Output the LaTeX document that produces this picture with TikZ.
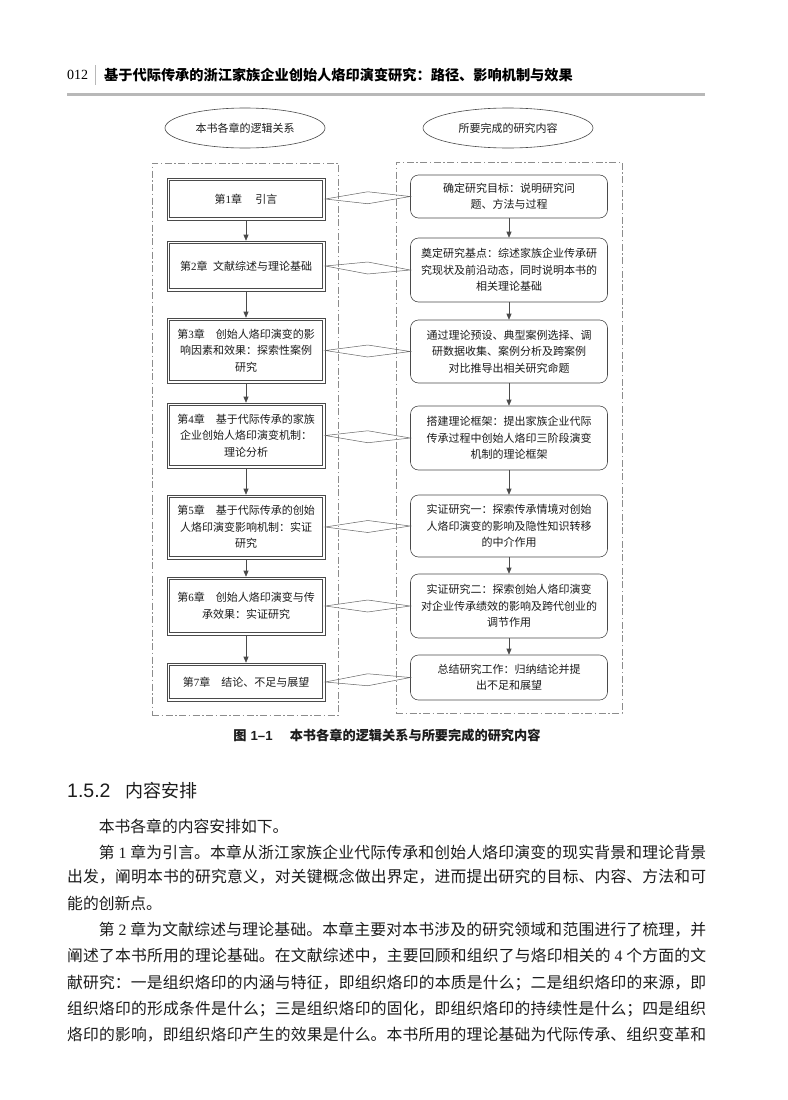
\documentclass[tikz,border=0pt]{standalone}
\usepackage{fontspec}
\setmainfont{Liberation Serif}
\newfontfamily\cjk{Noto Sans CJK SC}
\newfontfamily\lat{Liberation Serif}
\newfontfamily\sflat{Liberation Sans}
\usetikzlibrary{shapes.geometric,arrows.meta,calc}
\XeTeXlinebreaklocale "zh"
\XeTeXlinebreakskip=0pt plus 1pt
\definecolor{boxline}{HTML}{4A4A4A}
\definecolor{dashline}{HTML}{8C8C8C}
\definecolor{rulegray}{HTML}{B8B8B8}
\definecolor{txt}{HTML}{1C1C1C}
\newcommand\boxfont{\cjk\fontsize{11}{16.5}\selectfont\color{txt}}
\newcommand\bodyfont{\cjk\fontsize{15.8}{26}\selectfont\color{txt}}
\newcommand\dg[1]{\hspace{0.25em}{\lat #1}\hspace{0.25em}}
\newcommand\bd[1]{{\lat #1}}
\newcommand\jl[2]{\node[bodyline] at (67,#1) {\noindent\parfillskip=0pt\relax #2\par};}
\newcommand\rl[2]{\node[bodyline] at (67,#1) {\noindent #2\par};}
\begin{document}
\begin{tikzpicture}[x=1pt,y=-1pt,
  chbox/.style={draw=boxline, line width=0.6pt,
    minimum width=158pt, inner sep=3pt, align=center, font=\boxfont},
  inner/.style={draw=boxline, line width=0.6pt},
  rbox/.style={draw=boxline, line width=0.6pt, rounded corners=8pt,
    minimum width=197pt, inner sep=3pt, align=center, font=\boxfont},
  frame/.style={draw=dashline, line width=0.6pt, dash pattern=on 7pt off 2.5pt on 1.5pt off 2.5pt},
  oval/.style={ellipse, draw=boxline, line width=0.6pt, inner sep=1pt, font=\boxfont},
  arr/.style={draw=boxline, line width=0.6pt, -{Triangle[length=6pt,width=5pt]}},
  diam/.style={draw=boxline!85, line width=0.5pt},
  bodyline/.style={anchor=west, inner sep=0pt, text width=639pt, align=justify, font=\bodyfont}]
\useasboundingbox (0,0) rectangle (787,1100);
\fill[white] (0,0) rectangle (787,1100);

% header
\node[anchor=west, inner sep=0pt, font=\lat\fontsize{14}{14}\selectfont] (pg) at (67,75) {012};
\coordinate (bt) at (95,65);
\coordinate (bb) at (95,85);
\draw[rulegray, line width=0.6pt] (bt) -- (bb);
\node[anchor=west, inner sep=0pt, font=\cjk\bfseries\fontsize{14.2}{14.2}\selectfont] (ht) at (104,75)
  {基于代际传承的浙江家族企业创始人烙印演变研究：路径、影响机制与效果};
\coordinate (rl) at (67,94);
\coordinate (rr) at (705,94);
\draw[rulegray, line width=3pt] (rl) -- (rr);

% ellipses
\node[oval, minimum width=160pt, minimum height=40pt] (E1) at (245,128) {本书各章的逻辑关系};
\node[oval, minimum width=170pt, minimum height=40pt] (E2) at (508,128) {所要完成的研究内容};

% frames
\node[frame, minimum width=186pt, minimum height=552pt] (FL) at (245,439) {};
\node[frame, minimum width=226pt, minimum height=551pt] (FR) at (509,437.5) {};

% left chapter boxes (double border)
\node[chbox, minimum height=42pt] (L1) at (246,199) {第\bd{1}章\hspace{1.2em}引言};
\node[chbox, minimum height=50pt] (L2) at (246,266) {第\bd{2}章\hspace{0.5em}文献综述与理论基础};
\node[chbox, minimum height=65pt] (L3) at (246,350.5) {第\bd{3}章\hspace{1em}创始人烙印演变的影\\响因素和效果：探索性案例\\研究};
\node[chbox, minimum height=65pt] (L4) at (246,435.5) {第\bd{4}章\hspace{1em}基于代际传承的家族\\企业创始人烙印演变机制：\\理论分析};
\node[chbox, minimum height=64pt] (L5) at (246,527) {第\bd{5}章\hspace{1em}基于代际传承的创始\\人烙印演变影响机制：实证\\研究};
\node[chbox, minimum height=58pt] (L6) at (246,606) {第\bd{6}章\hspace{1em}创始人烙印演变与传\\承效果：实证研究};
\node[chbox, minimum height=38pt] (L7) at (246,682) {第\bd{7}章\hspace{1em}结论、不足与展望};
\foreach \k in {1,...,7}{
  \draw[inner] ($(L\k.north west)+(3,3)$) rectangle ($(L\k.south east)+(-3,-3)$);
}

% right content boxes
\node[rbox, minimum height=43pt] (R1) at (509,196.5) {确定研究目标：说明研究问\\题、方法与过程};
\node[rbox, minimum height=64pt] (R2) at (509,270) {奠定研究基点：综述家族企业传承研\\究现状及前沿动态，同时说明本书的\\相关理论基础};
\node[rbox, minimum height=63pt] (R3) at (509,351.5) {通过理论预设、典型案例选择、调\\研数据收集、案例分析及跨案例\\对比推导出相关研究命题};
\node[rbox, minimum height=64pt] (R4) at (509,438) {搭建理论框架：提出家族企业代际\\传承过程中创始人烙印三阶段演变\\机制的理论框架};
\node[rbox, minimum height=62pt] (R5) at (509,526) {实证研究一：探索传承情境对创始\\人烙印演变的影响及隐性知识转移\\的中介作用};
\node[rbox, minimum height=64pt] (R6) at (509,606) {实证研究二：探索创始人烙印演变\\对企业传承绩效的影响及跨代创业的\\调节作用};
\node[rbox, minimum height=45pt] (R7) at (509,677.5) {总结研究工作：归纳结论并提\\出不足和展望};

% vertical arrows
\foreach \a/\b in {1/2,2/3,3/4,4/5,5/6,6/7}{
  \draw[arr] (L\a.south) -- (L\b.north);
  \draw[arr] (R\a.south) -- (R\b.north);
}

% diamond links
\foreach \k in {1,...,7}{
  \draw[diam] (L\k.east) -- ($(L\k.east)!0.5!(R\k.west)+(0,-6)$) -- (R\k.west)
     -- ($(L\k.east)!0.5!(R\k.west)+(0,6)$) -- cycle;
}

% caption
\node[font=\cjk\bfseries\fontsize{13.2}{13.2}\selectfont\color{txt}] (cap) at (387,735)
  {图\hspace{0.3em}{\sflat\bfseries 1–1}\hspace{1.3em}本书各章的逻辑关系与所要完成的研究内容};

% section heading
\node[anchor=west, inner sep=0pt, color=txt] (sec) at (67,791)
  {{\sflat\fontsize{19.5}{19.5}\selectfont 1.5.2}\hspace{15pt}{\cjk\fontsize{18}{18}\selectfont 内容安排}};

% body text
\rl{826}{\hspace*{2em}本书各章的内容安排如下。}
\jl{852}{\hspace*{2em}第\dg{1}章为引言。本章从浙江家族企业代际传承和创始人烙印演变的现实背景和理论背景}
\jl{877}{出发，阐明本书的研究意义，对关键概念做出界定，进而提出研究的目标、内容、方法和可}
\rl{903}{能的创新点。}
\jl{930}{\hspace*{2em}第\dg{2}章为文献综述与理论基础。本章主要对本书涉及的研究领域和范围进行了梳理，并}
\jl{956}{阐述了本书所用的理论基础。在文献综述中，主要回顾和组织了与烙印相关的\dg{4}个方面的文}
\jl{983}{献研究：一是组织烙印的内涵与特征，即组织烙印的本质是什么；二是组织烙印的来源，即}
\jl{1009}{组织烙印的形成条件是什么；三是组织烙印的固化，即组织烙印的持续性是什么；四是组织}
\jl{1035}{烙印的影响，即组织烙印产生的效果是什么。本书所用的理论基础为代际传承、组织变革和}
\end{tikzpicture}
\end{document}
